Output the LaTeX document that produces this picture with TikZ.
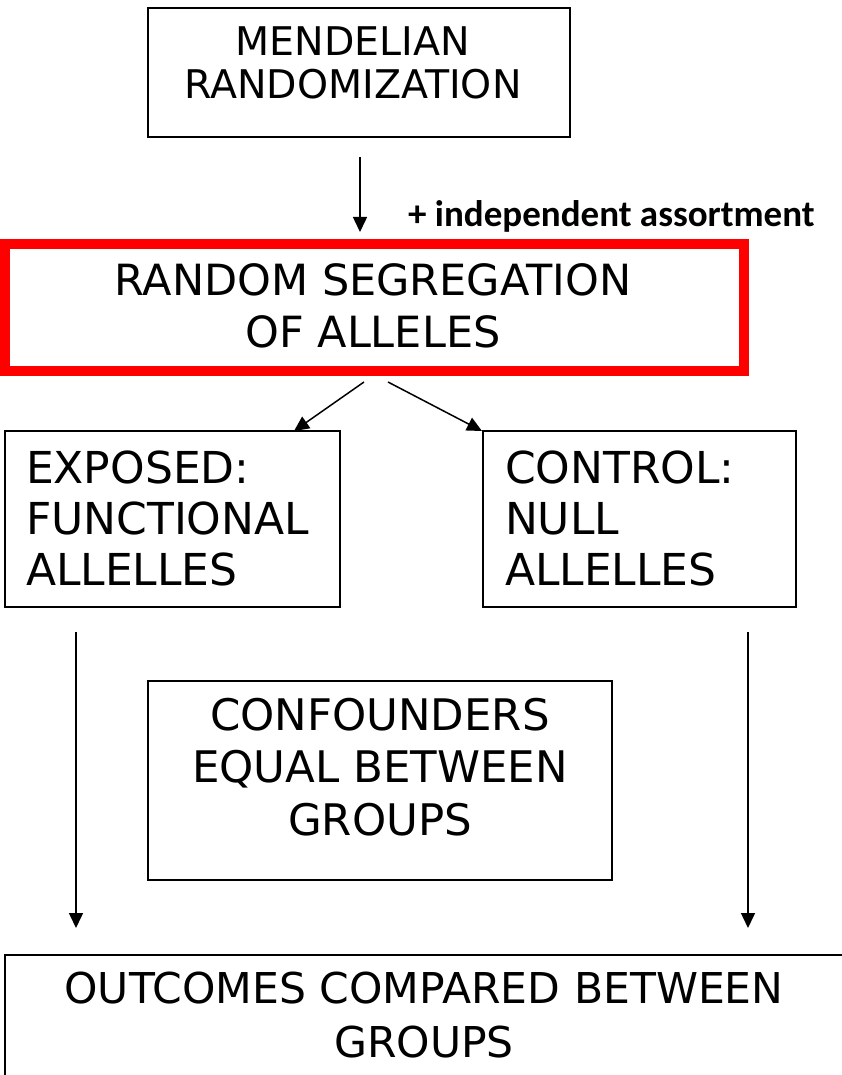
\documentclass[tikz,border=0pt]{standalone}
\usepackage{fontspec}
\setmainfont{DejaVu Sans}
\newfontfamily\notefont{Carlito}
\usetikzlibrary{arrows.meta}
\begin{document}
\begin{tikzpicture}[x=1pt,y=-1pt,
  box/.style={draw=black, line width=1.8pt, rectangle, inner sep=0pt, outer sep=0pt},
  redbox/.style={draw=red, line width=10pt, rectangle, inner sep=0pt, outer sep=0pt},
  txt/.style={inner sep=0pt, outer sep=0pt, font=\fontsize{43}{52}\selectfont},
  arr/.style={line width=1.5pt, -{Triangle[length=15pt,width=14pt]}},
]
\useasboundingbox (0,0) rectangle (842,1075);
\fill[white] (0,0) rectangle (842,1075);

% Boxes
\node[box, minimum width=422pt, minimum height=129pt] (mr) at (359,72.5) {};
\node[redbox, minimum width=739pt, minimum height=127pt] (seg) at (374.5,307.5) {};
\node[box, minimum width=335pt, minimum height=176pt] (exp) at (172.5,519) {};
\node[box, minimum width=313pt, minimum height=176pt] (ctl) at (639.5,519) {};
\node[box, minimum width=464pt, minimum height=199pt] (conf) at (380,780.5) {};
\node[box, minimum width=845pt, minimum height=135pt] (out) at (427.5,1022.5) {};

% Box texts
\node[txt, anchor=base, font=\fontsize{39.5}{43}\selectfont] (mrtext) at (353,56)
  {\begin{tabular}[t]{@{}c@{}}MENDELIAN\\RANDOMIZATION\end{tabular}};
\node[txt, anchor=base] (segtext) at (373,295)
  {\begin{tabular}[t]{@{}c@{}}RANDOM SEGREGATION\\OF ALLELES\end{tabular}};
\node[txt, anchor=base west, font=\fontsize{44}{51}\selectfont] (exptext) at (26,483)
  {\begin{tabular}[t]{@{}l@{}}EXPOSED:\\FUNCTIONAL\\ALLELLES\end{tabular}};
\node[txt, anchor=base west, font=\fontsize{44}{51}\selectfont] (ctltext) at (505,483)
  {\begin{tabular}[t]{@{}l@{}}CONTROL:\\NULL\\ALLELLES\end{tabular}};
\node[txt, anchor=base, font=\fontsize{43.5}{52.5}\selectfont] (conftext) at (380,730)
  {\begin{tabular}[t]{@{}c@{}}CONFOUNDERS\\EQUAL BETWEEN\\GROUPS\end{tabular}};
\node[txt, anchor=base, font=\fontsize{42.5}{54}\selectfont] (outtext) at (424,1003)
  {\begin{tabular}[t]{@{}c@{}}OUTCOMES COMPARED BETWEEN\\GROUPS\end{tabular}};

% Side note on the first arrow
\node[inner sep=0pt, anchor=base west, font=\notefont\bfseries\fontsize{37}{44}\selectfont]
  (note) at (408,226) {+ independent assortment};

% Connectors
\draw[arr, shorten <=20pt, shorten >=12pt]
  ([xshift=1pt]mr.south) -- ([xshift=1pt]mr.south |- seg.north);
\draw[arr] ([xshift=-10.5pt,yshift=-11pt]seg.south) -- ([xshift=-46pt]exp.north east);
\draw[arr] ([xshift=13.5pt,yshift=-11pt]seg.south) -- ([xshift=-1pt]ctl.north west);
\draw[arr, shorten <=25pt, shorten >=27pt]
  ([xshift=71pt]exp.south west) -- ([xshift=71pt]exp.south west |- out.north);
\draw[arr, shorten <=25pt, shorten >=27pt]
  ([xshift=-48pt]ctl.south east) -- ([xshift=-48pt]ctl.south east |- out.north);
\end{tikzpicture}
\end{document}
